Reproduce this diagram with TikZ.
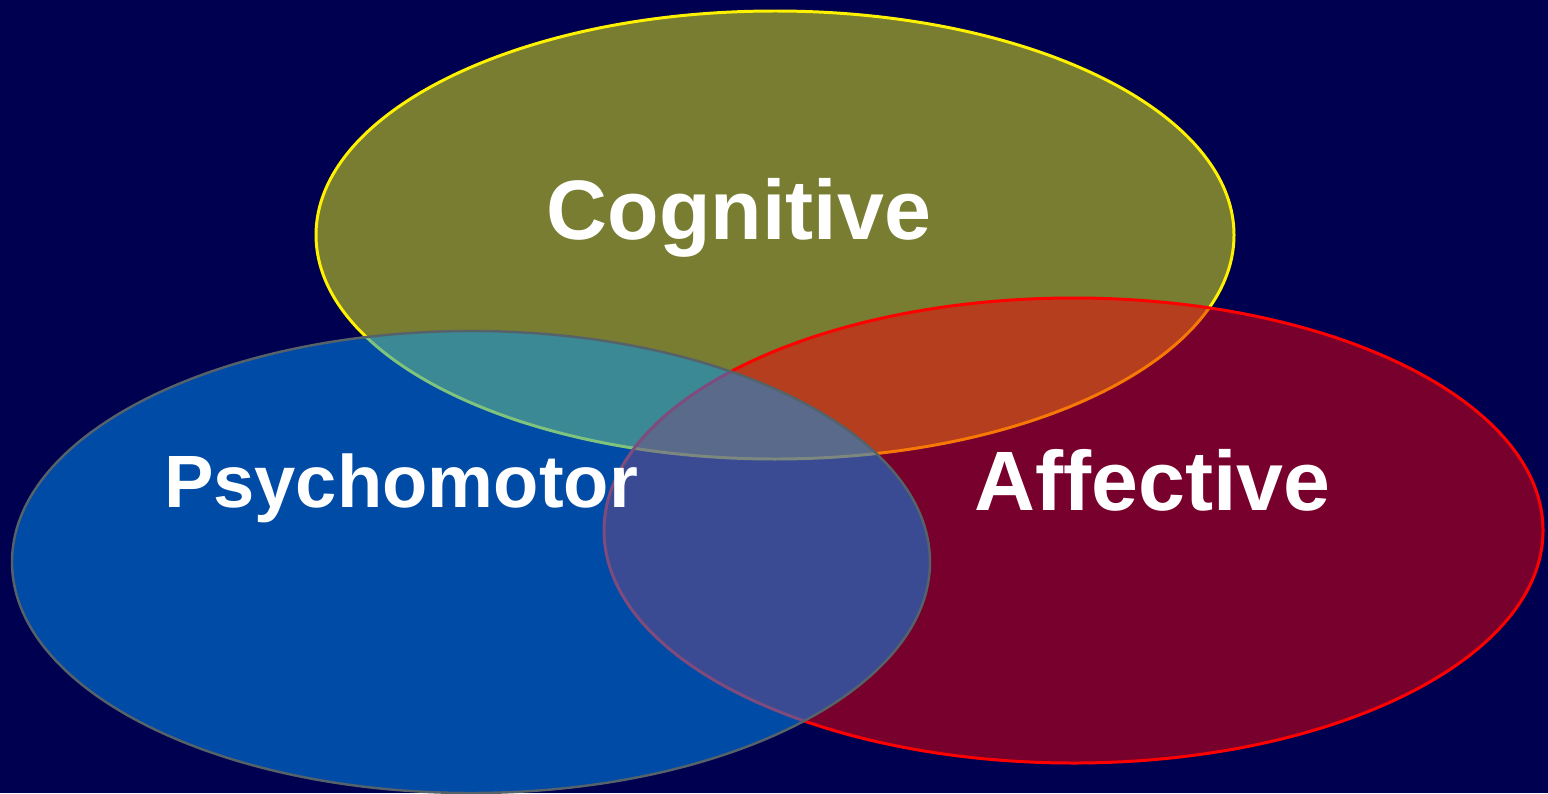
\documentclass[tikz,border=0pt]{standalone}
\usepackage{fontspec}
\setmainfont{Liberation Sans}
\begin{document}
\begin{tikzpicture}
\definecolor{bgnavy}{RGB}{0,0,80}
\definecolor{cogfill}{RGB}{240,250,20}
\definecolor{afffill}{RGB}{240,0,10}
\definecolor{psyfill}{RGB}{0,150,250}
\definecolor{psyline}{RGB}{85,98,105}
\tikzset{
  blob/.style={fill opacity=0.5, draw opacity=1},
  lbl/.style={text=white, font=\bfseries, anchor=base, inner sep=0pt}
}
\fill[bgnavy] (0,0) rectangle (15.48,7.93);
\useasboundingbox (0,0) rectangle (15.48,7.93);
\path[blob, fill=cogfill, draw=yellow, line width=0.85pt] (7.75,5.58) ellipse [x radius=4.59, y radius=2.24];
\path[blob, fill=afffill, draw=red, line width=0.85pt] (10.735,2.625) ellipse [x radius=4.695, y radius=2.325];
\path[blob, fill=psyfill, draw=psyline, line width=0.7pt] (4.71,2.31) ellipse [x radius=4.59, y radius=2.31];
\node[lbl, font=\bfseries\fontsize{24}{28}\selectfont] (cog) at (7.39,5.54) {Cognitive};
\node[lbl, font=\bfseries\fontsize{21.1}{25}\selectfont] (psy) at (4.01,2.86) {Psychomotor};
\node[lbl, font=\bfseries\fontsize{24}{28}\selectfont] (aff) at (11.525,2.83) {Affective};
\end{tikzpicture}
\end{document}
